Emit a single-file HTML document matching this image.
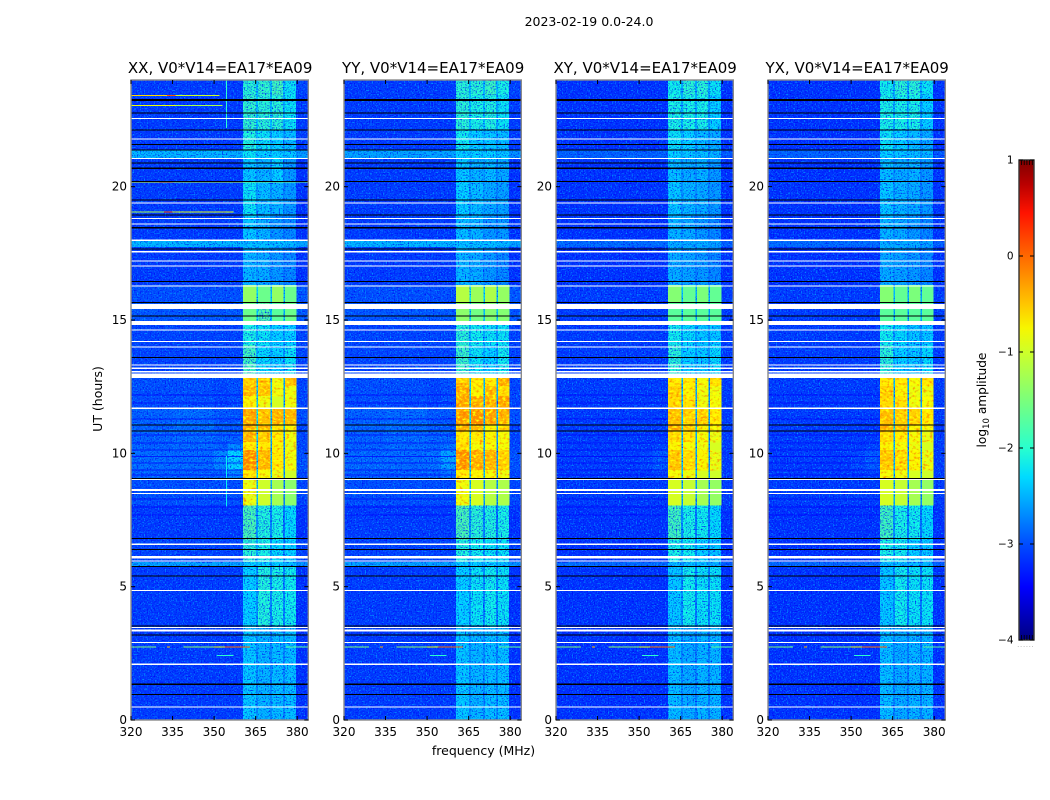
<!DOCTYPE html>
<html lang="en">
<head>
<meta charset="utf-8">
<title>2023-02-19 0.0-24.0</title>
<style>
html,body{margin:0;padding:0;background:#fff;width:1050px;height:800px;overflow:hidden}
svg{display:block}
text{font-family:"DejaVu Sans","Liberation Sans",sans-serif;fill:#000}
</style>
</head>
<body>
<svg id="fig" xmlns="http://www.w3.org/2000/svg" width="1050" height="800" viewBox="0 0 1050 800">
<defs>
<filter id="speckle-light" x="0" y="0" width="100%" height="100%" color-interpolation-filters="sRGB">
<feTurbulence type="fractalNoise" baseFrequency="0.72" numOctaves="1" seed="4"/>
<feColorMatrix type="matrix" values="0 0 0 0 0  0 0 0 0 0.68  0 0 0 0 1  3.0 0 0 0 -1.5"/>
</filter>
<filter id="speckle-dark" x="0" y="0" width="100%" height="100%" color-interpolation-filters="sRGB">
<feTurbulence type="fractalNoise" baseFrequency="0.72" numOctaves="1" seed="11"/>
<feColorMatrix type="matrix" values="0 0 0 0 0  0 0 0 0 0  0 0 0 0 0.95  3.0 0 0 0 -1.5"/>
</filter>
<filter id="mottle" x="0" y="0" width="100%" height="100%" color-interpolation-filters="sRGB">
<feTurbulence type="fractalNoise" baseFrequency="0.3 0.42" numOctaves="2" seed="7" result="noise"/>
<feColorMatrix in="noise" type="matrix" values="0 0 0 0 1  0 0 0 0 1  0 0 0 0 0  3.4 0 0 0 -1.55" result="yellow"/>
<feColorMatrix in="noise" type="matrix" values="0 0 0 0 1  0 0 0 0 0.42  0 0 0 0 0  0 2.4 0 0 -1.25" result="orange"/>
<feComposite in="yellow" in2="SourceAlpha" operator="in" result="yellowClipped"/>
<feComposite in="orange" in2="SourceAlpha" operator="in" result="orangeClipped"/>
<feMerge>
<feMergeNode in="SourceGraphic"/>
<feMergeNode in="yellowClipped"/>
<feMergeNode in="orangeClipped"/>
</feMerge>
</filter>
<linearGradient id="jet-gradient" x1="0" y1="1" x2="0" y2="0"></linearGradient>
</defs>
<text x="589" y="26" text-anchor="middle" font-size="12.5">2023-02-19 0.0-24.0</text>
<text x="483.5" y="755" text-anchor="middle" font-size="12.5">frequency (MHz)</text>
<text x="102" y="399" text-anchor="middle" font-size="12.5" transform="rotate(-90 102 399)">UT (hours)</text>
<text x="986" y="400" text-anchor="middle" font-size="12.2" transform="rotate(-90 986 400)">log<tspan font-size="8.5" dy="3">10</tspan><tspan dy="-3"> amplitude</tspan></text>
<g id="panels"></g>
<g id="colorbar"></g>
</svg>
<script>
// ---------- chart data (log10 amplitude) ----------
const panelTitles = ["XX, V0*V14=EA17*EA09", "YY, V0*V14=EA17*EA09", "XY, V0*V14=EA17*EA09", "YX, V0*V14=EA17*EA09"];
const xTickLabels = [320, 335, 350, 365, 380];
const yTickLabels = [0, 5, 10, 15, 20];
const colorbarTickLabels = [1, 0, -1, -2, -3, -4];

// frequency-band edges (MHz)
const freqEdges = [320, 335, 350, 355, 360.4, 365.1, 365.8, 370.2, 370.9, 374.9, 375.6, 379.6, 384];
// time-band edges (UT hours, top to bottom)
const utEdges = [24, 23.44, 22.13, 21.38, 21.08, 20.21, 18.94, 17.96, 17.74, 16.31, 15.64, 14.96, 14.06, 12.83, 12.53, 12.15, 11.7, 11.06, 10.84, 10.43, 10.13, 9.38, 9.08, 8.06, 6.75, 5.93, 5.78, 3.53, 0];

const levelsXX = [
[-3.1,-3.1,-3.1,-3.1,-2.0,-2.4,-1.95,-2.4,-1.85,-2.4,-2.2,-3.05],
[-3.1,-3.1,-3.1,-3.1,-1.95,-2.4,-2.0,-2.4,-2.0,-2.5,-2.2,-3.1],
[-3.1,-3.1,-3.1,-3.1,-2.05,-2.4,-2.2,-2.5,-2.3,-2.6,-2.4,-3.1],
[-2.45,-2.45,-2.45,-2.5,-2.2,-2.4,-2.3,-2.4,-2.3,-2.5,-2.35,-2.6],
[-3.1,-3.1,-3.1,-3.1,-2.35,-2.6,-2.45,-2.6,-2.3,-2.7,-2.6,-3.15],
[-3.1,-3.1,-3.1,-3.1,-2.2,-2.6,-2.4,-2.6,-2.45,-2.7,-2.6,-3.15],
[-3.1,-3.1,-3.1,-3.1,-2.35,-2.6,-2.45,-2.7,-2.6,-2.8,-2.7,-3.15],
[-2.45,-2.45,-2.45,-2.45,-2.4,-2.4,-2.4,-2.4,-2.4,-2.4,-2.45,-2.55],
[-3.1,-3.1,-3.1,-3.1,-2.45,-2.6,-2.5,-2.7,-2.6,-2.8,-2.7,-3.15],
[-3.0,-3.0,-3.0,-3.0,-1.35,-2.3,-1.6,-2.4,-1.35,-2.4,-1.6,-2.95],
[-2.95,-2.95,-2.95,-2.95,-1.6,-2.3,-1.75,-2.4,-1.7,-2.4,-1.6,-2.95],
[-3.05,-3.05,-3.05,-3.05,-2.1,-2.5,-2.2,-2.5,-2.3,-2.6,-2.3,-3.05],
[-3.05,-3.05,-3.05,-3.05,-1.85,-2.4,-2.25,-2.5,-2.3,-2.6,-2.2,-3.05],
[-3.0,-3.0,-3.05,-3.0,-0.55,-2.3,-0.5,-2.4,-0.85,-2.5,-0.5,-3.05],
[-3.0,-3.0,-3.05,-3.0,-0.4,-2.3,-0.45,-2.4,-0.85,-2.5,-0.85,-3.05],
[-3.0,-3.0,-3.05,-3.0,-0.75,-2.3,-0.85,-2.4,-0.95,-2.5,-0.85,-3.05],
[-2.9,-2.85,-2.95,-2.95,-0.3,-2.2,-0.45,-2.4,-0.4,-2.4,-0.4,-3.0],
[-2.9,-2.85,-2.95,-2.95,-0.35,-2.0,-0.4,-2.2,-0.65,-2.4,-0.75,-3.05],
[-2.9,-2.85,-2.9,-2.9,-0.4,-2.3,-0.5,-2.4,-0.7,-2.6,-0.85,-3.05],
[-2.9,-2.85,-2.9,-2.7,-0.7,-2.3,-0.7,-2.5,-0.75,-2.6,-0.9,-3.05],
[-2.85,-2.85,-2.7,-2.3,-0.15,-2.3,-0.4,-2.4,-0.7,-2.6,-0.85,-3.0],
[-2.9,-2.9,-2.9,-2.7,-0.7,-2.3,-0.8,-2.4,-0.9,-2.6,-1.0,-3.05],
[-3.0,-3.0,-3.0,-3.0,-0.9,-2.4,-1.0,-2.5,-1.25,-2.7,-1.4,-3.05],
[-3.1,-3.1,-3.1,-3.1,-1.8,-2.6,-2.05,-2.7,-2.1,-2.8,-2.25,-3.15],
[-3.05,-3.05,-3.05,-3.05,-2.0,-2.5,-2.1,-2.6,-2.25,-2.7,-2.3,-3.05],
[-2.55,-2.55,-2.55,-2.55,-2.3,-2.5,-2.3,-2.5,-2.3,-2.5,-2.4,-2.65],
[-3.1,-3.1,-3.1,-3.1,-2.3,-2.6,-2.05,-2.7,-2.1,-2.7,-2.15,-3.15],
[-3.1,-3.1,-3.1,-3.1,-2.35,-2.65,-2.45,-2.7,-2.4,-2.7,-2.4,-3.15]
];
const levelsYY = [
[-3.1,-3.1,-3.1,-3.1,-2.0,-2.4,-2.0,-2.4,-1.9,-2.4,-2.1,-3.05],
[-3.1,-3.1,-3.1,-3.1,-2.0,-2.4,-2.1,-2.4,-2.05,-2.5,-2.2,-3.1],
[-3.1,-3.1,-3.1,-3.1,-2.15,-2.4,-2.3,-2.5,-2.35,-2.6,-2.4,-3.1],
[-2.55,-2.55,-2.55,-2.55,-2.3,-2.4,-2.3,-2.4,-2.3,-2.5,-2.35,-2.65],
[-3.1,-3.1,-3.1,-3.1,-2.35,-2.6,-2.45,-2.6,-2.4,-2.7,-2.5,-3.15],
[-3.1,-3.1,-3.1,-3.1,-2.3,-2.6,-2.4,-2.6,-2.5,-2.7,-2.55,-3.15],
[-3.1,-3.1,-3.1,-3.1,-2.4,-2.6,-2.45,-2.7,-2.6,-2.8,-2.6,-3.15],
[-2.45,-2.45,-2.45,-2.45,-2.4,-2.4,-2.4,-2.4,-2.4,-2.4,-2.45,-2.55],
[-3.1,-3.1,-3.1,-3.1,-2.45,-2.6,-2.5,-2.7,-2.6,-2.8,-2.7,-3.15],
[-3.0,-3.0,-3.0,-3.0,-1.15,-2.2,-1.3,-2.3,-1.2,-2.4,-1.35,-2.95],
[-2.95,-2.95,-2.95,-2.95,-1.4,-2.3,-1.55,-2.4,-1.45,-2.4,-1.45,-2.95],
[-3.05,-3.05,-3.05,-3.05,-2.0,-2.5,-2.15,-2.5,-2.2,-2.6,-2.2,-3.05],
[-3.05,-3.05,-3.05,-3.05,-1.9,-2.4,-2.2,-2.5,-2.3,-2.6,-2.15,-3.05],
[-3.0,-3.0,-3.05,-3.0,-0.5,-2.3,-0.7,-2.4,-0.7,-2.5,-0.35,-3.05],
[-3.0,-3.0,-3.05,-3.0,-0.35,-2.3,-0.75,-2.4,-0.45,-2.5,-0.6,-3.05],
[-3.0,-3.0,-3.05,-3.0,-0.3,-2.3,-0.35,-2.4,-0.4,-2.5,-0.3,-3.05],
[-2.9,-2.85,-2.95,-2.95,-0.25,-2.2,-0.2,-2.4,-0.3,-2.4,-0.4,-3.0],
[-2.9,-2.85,-2.95,-2.95,-0.35,-2.0,-0.4,-2.2,-0.75,-2.4,-0.6,-3.05],
[-2.9,-2.85,-2.9,-2.9,-0.7,-2.3,-0.7,-2.4,-0.75,-2.6,-0.8,-3.05],
[-2.9,-2.85,-2.9,-2.8,-0.6,-2.3,-0.8,-2.5,-0.8,-2.6,-0.8,-3.05],
[-2.85,-2.85,-2.8,-2.55,-0.2,-2.3,-0.35,-2.4,-0.4,-2.6,-0.55,-3.0],
[-2.9,-2.9,-2.9,-2.8,-0.7,-2.3,-0.75,-2.4,-0.8,-2.6,-0.85,-3.05],
[-3.0,-3.0,-3.0,-3.0,-0.85,-2.4,-0.95,-2.5,-1.15,-2.7,-1.2,-3.05],
[-3.1,-3.1,-3.1,-3.1,-1.8,-2.6,-2.0,-2.7,-2.05,-2.8,-2.1,-3.15],
[-3.05,-3.05,-3.05,-3.05,-2.05,-2.5,-2.15,-2.6,-2.2,-2.7,-2.2,-3.05],
[-2.55,-2.55,-2.55,-2.55,-2.3,-2.5,-2.3,-2.5,-2.3,-2.5,-2.4,-2.65],
[-3.1,-3.1,-3.1,-3.1,-2.3,-2.6,-2.2,-2.7,-2.15,-2.7,-2.2,-3.15],
[-3.1,-3.1,-3.1,-3.1,-2.35,-2.65,-2.45,-2.7,-2.4,-2.7,-2.4,-3.15]
];
const levelsCross = [
[-3.15,-3.15,-3.15,-3.15,-2.15,-2.5,-2.0,-2.5,-2.0,-2.5,-2.2,-3.15],
[-3.15,-3.15,-3.15,-3.15,-2.1,-2.5,-2.1,-2.5,-2.1,-2.6,-2.3,-3.15],
[-3.15,-3.15,-3.15,-3.15,-2.2,-2.5,-2.3,-2.6,-2.4,-2.7,-2.5,-3.15],
[-2.9,-2.9,-2.9,-2.9,-2.3,-2.5,-2.35,-2.5,-2.4,-2.6,-2.45,-2.95],
[-3.15,-3.15,-3.15,-3.15,-2.4,-2.65,-2.5,-2.65,-2.45,-2.75,-2.6,-3.15],
[-3.15,-3.15,-3.15,-3.15,-2.35,-2.65,-2.45,-2.65,-2.5,-2.75,-2.6,-3.15],
[-3.15,-3.15,-3.15,-3.15,-2.45,-2.65,-2.5,-2.75,-2.6,-2.8,-2.7,-3.15],
[-2.85,-2.85,-2.85,-2.85,-2.5,-2.6,-2.5,-2.6,-2.5,-2.6,-2.55,-2.9],
[-3.15,-3.15,-3.15,-3.15,-2.5,-2.65,-2.55,-2.75,-2.6,-2.8,-2.7,-3.15],
[-3.1,-3.1,-3.1,-3.1,-1.45,-2.4,-1.65,-2.5,-1.5,-2.5,-1.65,-3.1],
[-3.1,-3.1,-3.1,-3.1,-1.7,-2.4,-1.7,-2.5,-1.7,-2.5,-1.7,-3.1],
[-3.1,-3.1,-3.1,-3.1,-2.15,-2.55,-2.25,-2.6,-2.35,-2.65,-2.35,-3.1],
[-3.1,-3.1,-3.1,-3.1,-2.0,-2.45,-2.3,-2.55,-2.35,-2.65,-2.25,-3.1],
[-3.1,-3.1,-3.1,-3.1,-0.7,-2.4,-0.7,-2.5,-0.8,-2.6,-0.65,-3.1],
[-3.1,-3.1,-3.1,-3.1,-0.55,-2.4,-0.75,-2.5,-0.85,-2.6,-0.85,-3.1],
[-3.1,-3.1,-3.1,-3.1,-0.6,-2.4,-0.65,-2.5,-0.85,-2.6,-0.8,-3.1],
[-3.1,-3.1,-3.1,-3.1,-0.45,-2.4,-0.55,-2.5,-0.55,-2.5,-0.7,-3.1],
[-3.1,-3.1,-3.1,-3.1,-0.35,-2.2,-0.5,-2.3,-0.75,-2.5,-0.8,-3.1],
[-3.1,-3.1,-3.1,-3.1,-0.6,-2.4,-0.7,-2.5,-0.8,-2.6,-0.9,-3.1],
[-3.1,-3.1,-3.1,-3.05,-0.75,-2.4,-0.8,-2.5,-0.85,-2.6,-0.95,-3.1],
[-3.1,-3.1,-3.05,-2.95,-0.5,-2.4,-0.6,-2.5,-0.75,-2.6,-0.9,-3.1],
[-3.1,-3.1,-3.1,-3.05,-0.8,-2.4,-0.85,-2.5,-0.95,-2.6,-1.0,-3.1],
[-3.1,-3.1,-3.1,-3.1,-0.95,-2.5,-1.05,-2.6,-1.25,-2.7,-1.35,-3.1],
[-3.15,-3.15,-3.15,-3.15,-1.85,-2.65,-2.1,-2.75,-2.15,-2.8,-2.25,-3.15],
[-3.15,-3.15,-3.15,-3.15,-2.1,-2.55,-2.15,-2.65,-2.3,-2.7,-2.35,-3.15],
[-2.85,-2.85,-2.85,-2.85,-2.4,-2.6,-2.4,-2.6,-2.4,-2.6,-2.45,-2.9],
[-3.15,-3.15,-3.15,-3.15,-2.35,-2.65,-2.15,-2.75,-2.2,-2.75,-2.2,-3.15],
[-3.15,-3.15,-3.15,-3.15,-2.4,-2.7,-2.5,-2.75,-2.45,-2.75,-2.45,-3.15]
];
const panelLevels = [levelsXX, levelsYY, levelsCross, levelsCross];

// flagged rows: [UT top, UT bottom]
const whiteRows = [[22.58,22.54],[21.8,21.76],[21.08,21.04],[19.41,19.37],[18.83,18.79],[18.62,18.58],[18.01,17.97],[17.58,17.54],[17.24,17.2],[17.05,17.01],[16.3,16.26],[15.6,15.41],[14.96,14.81],[14.65,14.61],[14.21,14.17],[14.0,13.96],[13.33,13.29],[13.21,13.17],[13.08,13.04],[13.0,12.83],[11.71,11.67],[9.04,9.0],[8.66,8.59],[8.51,8.47],[6.61,6.57],[6.15,6.06],[5.98,5.94],[4.87,4.83],[3.49,3.45],[3.39,3.31],[2.93,2.89],[2.11,2.07],[0.5,0.46]];
const blackRows = [[23.28,23.22],[22.78,22.74],[22.15,22.11],[21.6,21.56],[21.4,21.36],[20.9,20.86],[20.72,20.66],[20.21,20.17],[19.52,19.49],[18.96,18.92],[18.49,18.43],[17.68,17.64],[16.46,16.42],[15.68,15.64],[15.17,15.13],[13.61,13.57],[11.08,11.04],[10.86,10.82],[9.08,9.04],[6.83,6.79],[6.42,6.38],[5.77,5.73],[5.42,5.38],[3.55,3.51],[3.2,3.16],[1.36,1.32],[0.98,0.94]];
// faint darker rows in the daytime background
const dimRows = [12.2,11.9,11.3,10.7,10.4,10.15,9.9,9.65,9.4,9.2,8.3,8.0,7.7];
// narrow-band interference: [UT, start MHz, end MHz, level]
const spikesAll = [[2.76,320,329,-1.5],[2.76,333,334,-0.4],[2.76,339,350,-1.4],[2.76,350,354,-0.8],[2.76,354,363,0.0],[2.76,376,384,-1.7],[2.43,351,357,-2.0]];
const spikesXX = [[23.44,320,333,-0.6],[23.44,333,336,0.1],[23.44,336,352,-1.0],[23.06,320,336,-0.8],[23.06,336,353,-1.2],[20.19,320,330,-1.0],[20.19,330,335,-0.3],[20.19,335,360,-1.2],[20.19,360,384,-1.6],[19.07,320,332,-1.2],[19.07,332,335,0.1],[19.07,335,357,-0.9]];
const channelBursts = [[354.3,24,22.2,-2.0],[354.3,9.9,8.0,-2.2]];
const colorbarStops = [-4,-3.5,-3.45,-3,-2.5,-2.3,-2,-1.75,-1.5,-1.25,-1,-0.75,-0.5,-0.25,0,0.25,0.45,0.75,1];
const smoothThreshold = -1.75;
const mottleThreshold = -0.95;

// ---------- scales ----------
const NS = "http://www.w3.org/2000/svg";
const panelLefts = [131, 344, 556, 768];
const panelW = 177.3, plotTop = 80, plotH = 640;
const xScale = (left, f) => left + (f - 320) * panelW / 64;
const yScale = ut => plotTop + plotH - ut * plotH / 24;
const cbTop = 160, cbH = 480, cbLeft = 1019, cbW = 15;
const cbScale = v => cbTop + (1 - v) * cbH / 5;

function jet(v) {
  const t = Math.min(1, Math.max(0, (v + 4) / 5));
  const seg = (pts) => {
    for (let i = 1; i < pts.length; i++) {
      if (t <= pts[i][0]) {
        const a = pts[i - 1], b = pts[i];
        return a[1] + (b[1] - a[1]) * (t - a[0]) / (b[0] - a[0]);
      }
    }
    return pts[pts.length - 1][1];
  };
  const r = seg([[0,0],[0.35,0],[0.66,1],[0.89,1],[1,0.5]]);
  const g = seg([[0,0],[0.125,0],[0.375,1],[0.64,1],[0.91,0],[1,0]]);
  const b = seg([[0,0.5],[0.11,1],[0.34,1],[0.65,0],[1,0]]);
  return "rgb(" + Math.round(r * 255) + "," + Math.round(g * 255) + "," + Math.round(b * 255) + ")";
}
function mk(parent, tag, attrs) {
  const el = document.createElementNS(NS, tag);
  for (const k in attrs) el.setAttribute(k, attrs[k]);
  parent.appendChild(el);
  return el;
}

// ---------- panels ----------
const root = document.getElementById("panels");
panelTitles.forEach((title, p) => {
  const left = panelLefts[p];
  const g = mk(root, "g", {});
  
  

  const t = mk(g, "text", { x: left + panelW / 2 + 0.5, y: 73, "text-anchor": "middle", "font-size": 15 });
  
  
  t.textContent = title;

  const levels = panelLevels[p];
  const cells = mk(g, "g", { "shape-rendering": "crispEdges" });
  
  

  const sp1 = mk(g, "rect", { x: left, y: plotTop, width: panelW, height: plotH, filter: "url(#speckle-light)" });
  
  
  const sp2 = mk(g, "rect", { x: left, y: plotTop, width: panelW, height: plotH, filter: "url(#speckle-dark)" });
  
  

  const smoothCells = mk(g, "g", { "shape-rendering": "crispEdges" });
  
  

  const mottledCells = mk(g, "g", { "shape-rendering": "crispEdges", filter: "url(#mottle)" });
  
  

  levels.forEach((row, r) => {
    row.forEach((v, c) => {
      const x0 = xScale(left, freqEdges[c]), x1 = xScale(left, freqEdges[c + 1]);
      const y0 = yScale(utEdges[r]), y1 = yScale(utEdges[r + 1]);
      const layer = v > mottleThreshold ? mottledCells : (v > smoothThreshold ? smoothCells : cells);
      const cell = mk(layer, "rect", { x: x0, y: y0, width: x1 - x0 + 0.5, height: y1 - y0 + 0.5, fill: jet(v) });
      
      
    });
  });

  const marks = mk(g, "g", { "shape-rendering": "crispEdges" });
  
  

  dimRows.forEach(ut => {
    const el = mk(marks, "rect", { x: left, y: yScale(ut), width: xScale(left, 360.4) - left, height: 1, fill: jet(-3.4), opacity: 0.7 });
    
    
  });
  const spikes = p === 0 ? spikesAll.concat(spikesXX) : spikesAll;
  spikes.forEach(s => {
    const el = mk(marks, "rect", { x: xScale(left, s[1]), y: yScale(s[0]), width: xScale(left, s[2]) - xScale(left, s[1]), height: 1, fill: jet(s[3]) });
    
    
  });
  if (p === 0) {
    channelBursts.forEach(b => {
      const el = mk(marks, "rect", { x: xScale(left, b[0]), y: yScale(b[1]), width: 1, height: yScale(b[2]) - yScale(b[1]), fill: jet(b[3]) });
      
      
    });
  }
  blackRows.forEach(b => {
    const el = mk(marks, "rect", { x: left, y: yScale(b[0]), width: panelW, height: Math.max(1, yScale(b[1]) - yScale(b[0])), fill: "#000" });
    
    
  });
  whiteRows.forEach(b => {
    const el = mk(marks, "rect", { x: left, y: yScale(b[0]), width: panelW, height: Math.max(1, yScale(b[1]) - yScale(b[0])), fill: "#fff" });
    
    
  });

  const frame = mk(g, "rect", { x: left, y: plotTop, width: panelW, height: plotH, fill: "none", stroke: "#8a8a8a", "stroke-width": 1.4 });
  
  

  xTickLabels.forEach(f => {
    const x = xScale(left, f);
    const a = mk(g, "line", { x1: x, x2: x, y1: plotTop + plotH, y2: plotTop + plotH - 4, stroke: "#000" });
    
    
    const b = mk(g, "line", { x1: x, x2: x, y1: plotTop, y2: plotTop + 4, stroke: "#000" });
    
    
    const lab = mk(g, "text", { x: x, y: 736, "text-anchor": "middle", "font-size": 12 });
    
    
    lab.textContent = f;
  });
  yTickLabels.forEach(ut => {
    const y = yScale(ut);
    const a = mk(g, "line", { x1: left, x2: left + 4, y1: y, y2: y, stroke: "#000" });
    
    
    const b = mk(g, "line", { x1: left + panelW - 4, x2: left + panelW, y1: y, y2: y, stroke: "#000" });
    
    
    const lab = mk(g, "text", { x: left - 4, y: y + 4, "text-anchor": "end", "font-size": 12 });
    
    
    lab.textContent = ut;
  });
});

// ---------- colorbar ----------
const grad = document.getElementById("jet-gradient");
colorbarStops.forEach(v => {
  mk(grad, "stop", { offset: ((v + 4) / 5 * 100) + "%", "stop-color": jet(v) });
});
const cb = document.getElementById("colorbar");
const cbRect = mk(cb, "rect", { x: cbLeft, y: cbTop, width: cbW, height: cbH, fill: "url(#jet-gradient)", stroke: "#333", "stroke-width": 1.4 });


colorbarTickLabels.forEach(v => {
  const y = cbScale(v);
  [[cbLeft, cbLeft + 4], [cbLeft + cbW - 4, cbLeft + cbW]].forEach(seg => {
    const tick = mk(cb, "line", { x1: seg[0], x2: seg[1], y1: y, y2: y, stroke: "#000" });
    
    
  });
  const lab = mk(cb, "text", { x: 1013.5, y: y + 3.5, "text-anchor": "end", "font-size": 10.5 });
  
  
  lab.textContent = String(v).replace("-", "\u2212");
});
for (let i = 0; i < 5; i++) {
  const x = cbLeft + 2.5 + i * 2.7;
  const t1 = mk(cb, "line", { x1: x, x2: x, y1: cbTop, y2: cbTop + 5, stroke: "#000", "stroke-width": 0.8 });
  
  
  const t2 = mk(cb, "line", { x1: x, x2: x, y1: cbTop + cbH - 5, y2: cbTop + cbH, stroke: "#000", "stroke-width": 0.8 });
  
  
}
const cbDots = mk(cb, "text", { x: 1026, y: 647, "text-anchor": "middle", "font-size": 6, "letter-spacing": "1px" });


cbDots.setAttribute('style', 'fill:#888');
cbDots.textContent = "......";
</script>
</body>
</html>
